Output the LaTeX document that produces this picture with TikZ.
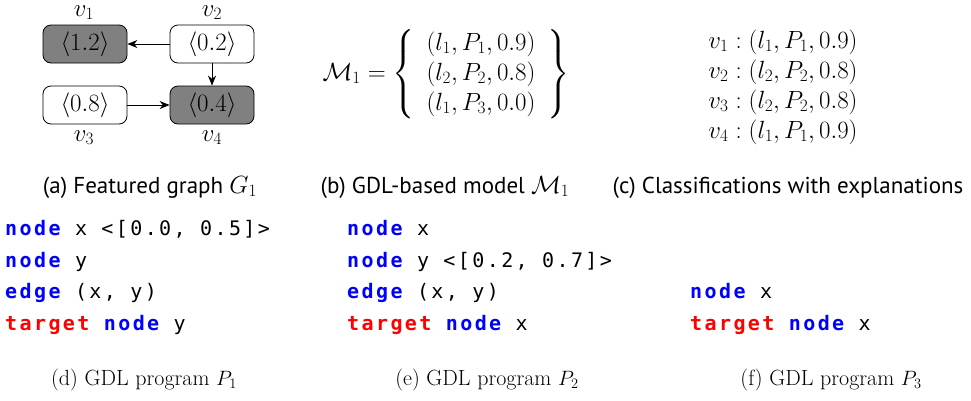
\documentclass[tikz,border=0pt]{standalone}
\usepackage{fontspec}
\usepackage{amsmath}
\usetikzlibrary{arrows.meta}
\newfontfamily\capsans{PT Sans}
\newfontfamily\codefont[LetterSpace=12]{DejaVu Sans Mono}
\definecolor{kwblue}{RGB}{0,0,255}
\definecolor{kwred}{RGB}{255,0,0}
\definecolor{boxgray}{RGB}{128,128,128}
\newcommand{\kwb}[1]{\textcolor{kwblue}{\bfseries #1}}
\newcommand{\kwr}[1]{\textcolor{kwred}{\bfseries #1}}
\begin{document}
\begin{tikzpicture}[x=1pt,y=-1pt,
  gbox/.style={draw=black,line width=0.8pt,rounded corners=8pt,minimum width=84pt,minimum height=38pt,inner sep=0pt,font=\fontsize{26}{30}\selectfont},
  graybox/.style={gbox,fill=boxgray},
  whitebox/.style={gbox,fill=white},
  vlab/.style={anchor=base,inner sep=0pt,font=\fontsize{24}{28}\selectfont},
  garrow/.style={-{Stealth[length=10pt,width=8pt]},line width=0.8pt},
  capa/.style={anchor=base,inner sep=0pt,font=\capsans\fontsize{23}{27}\selectfont},
  capd/.style={anchor=base,inner sep=0pt,font=\fontsize{22}{26}\selectfont},
  mathnode/.style={inner sep=0pt,font=\fontsize{27}{30}\selectfont},
  codeline/.style={anchor=base west,inner sep=0pt,font=\codefont\fontsize{20}{24}\selectfont}
]
\useasboundingbox (0,0) rectangle (971,400);
% (a) graph
\node[graybox] (v1) at (85,44) {$\langle 1.2\rangle$};
\node[whitebox] (v2) at (212,44) {$\langle 0.2\rangle$};
\node[whitebox] (v3) at (85,105) {$\langle 0.8\rangle$};
\node[graybox] (v4) at (212,105) {$\langle 0.4\rangle$};
\node[vlab] (l1) at (84,16) {$v_1$};
\node[vlab] (l2) at (212,16) {$v_2$};
\node[vlab] (l3) at (84,141) {$v_3$};
\node[vlab] (l4) at (212,141) {$v_4$};
\draw[garrow] (v2.west) -- (v1.east);
\draw[garrow] (v2.south) -- (v4.north);
\draw[garrow] (v3.east) -- (v4.west);
% (b) model
\node[mathnode] (model) at (446,74) {$\mathcal{M}_1 = \left\{\;\begin{array}{c}(l_1, P_1, 0.9)\\(l_2, P_2, 0.8)\\(l_1, P_3, 0.0)\end{array}\;\right\}$};
% (c) classifications
\node[mathnode] (cls) at (783,87) {$\begin{array}{c}v_1:(l_1, P_1, 0.9)\\v_2:(l_2, P_2, 0.8)\\v_3:(l_2, P_2, 0.8)\\v_4:(l_1, P_1, 0.9)\end{array}$};
% top captions
\node[capa] (capa) at (150,193) {(a) Featured graph $G_1$};
\node[capa] (capb) at (445,193) {(b) GDL-based model $\mathcal{M}_1$};
\node[capa] (capc) at (788,193) {(c) Classifications with explanations};
% (d) program P1
\node[codeline] (d1) at (5,235) {\kwb{node} x <[0.0, 0.5]>};
\node[codeline] (d2) at (5,267) {\kwb{node} y};
\node[codeline] (d3) at (5,298) {\kwb{edge} (x, y)};
\node[codeline] (d4) at (5,330) {\kwr{target} \kwb{node} y};
% (e) program P2
\node[codeline] (e1) at (347,235) {\kwb{node} x};
\node[codeline] (e2) at (347,267) {\kwb{node} y <[0.2, 0.7]>};
\node[codeline] (e3) at (347,298) {\kwb{edge} (x, y)};
\node[codeline] (e4) at (347,330) {\kwr{target} \kwb{node} x};
% (f) program P3
\node[codeline] (f1) at (690,298) {\kwb{node} x};
\node[codeline] (f2) at (690,330) {\kwr{target} \kwb{node} x};
% bottom captions
\node[capd] (capd) at (144,385) {(d) GDL program $P_1$};
\node[capd] (cape) at (487,385) {(e) GDL program $P_2$};
\node[capd] (capf) at (831,385) {(f) GDL program $P_3$};
\end{tikzpicture}
\end{document}
